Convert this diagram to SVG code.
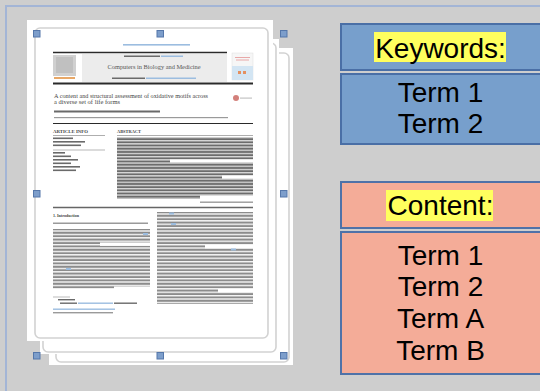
<svg xmlns="http://www.w3.org/2000/svg" width="540" height="391" viewBox="0 0 540 391">
  <style>
    .page { fill: #ffffff; }
    .pborder { fill: none; stroke: #d2d2d2; stroke-width: 1.6; }
    .handle { fill: #7d9ecb; stroke: #5577aa; stroke-width: 1; }
    .kw { fill: #779fcc; stroke: #4a6fa6; stroke-width: 2; }
    .ct { fill: #f4ac98; stroke: #4f72a8; stroke-width: 2; }
    .hl { fill: #ffff5e; }
    .big { font-family: "Liberation Sans", Arial, sans-serif; font-size: 28px; fill: #000; text-anchor: middle; }
    .serif { font-family: "Liberation Serif", "Times New Roman", serif; }
    .bar { fill: #9a9a9a; }
    .dbar { fill: #6a6a6a; }
    .blue { fill: #9cbde0; }
    .rule { stroke: #2a2a2a; }
  </style>
  <defs>
    <pattern id="txt" patternUnits="userSpaceOnUse" x="0" y="0" width="10" height="3.4">
      <rect x="0" y="0.5" width="10" height="2.1" fill="#8c8c8c"/>
    </pattern>
    <pattern id="txtd" patternUnits="userSpaceOnUse" x="0" y="0" width="10" height="3.2">
      <rect x="0" y="0.4" width="10" height="2.2" fill="#6c6c6c"/>
    </pattern>
  </defs>

  <rect x="0" y="0" width="540" height="391" fill="#cecece"/>
  <polyline points="6,391 6,6 540,6" fill="none" stroke="#a3b5d6" stroke-width="2"/>

  <g id="document">
    <!-- back pages -->
    <rect class="page" x="49" y="48" width="244" height="317"/>
    <rect class="pborder" x="56" y="53" width="233" height="309" rx="5"/>
    <rect class="page" x="40" y="39" width="239" height="315"/>
    <rect class="pborder" x="43" y="43" width="233" height="309" rx="5"/>
    <!-- front page -->
    <rect class="page" x="27" y="20" width="246" height="321"/>
    <rect class="pborder" x="35" y="28" width="233" height="310" rx="5"/>

    <!-- page content -->
    <rect class="blue" x="123" y="44" width="67" height="1.6"/>
    <line class="rule" x1="53" y1="52.5" x2="227" y2="52.5" stroke-width="1.3"/>
    <rect x="82" y="54" width="145" height="28" fill="#ececec"/>
    <rect x="53" y="55" width="23" height="21" fill="#d0d0d0"/>
    <rect x="56" y="57" width="17" height="16" fill="#b5b5b5" opacity="0.6"/>
    <rect x="54" y="77" width="21" height="2" fill="#e8a868"/>
    <rect class="dbar" x="124" y="55.5" width="36" height="1.5"/>
    <rect class="blue" x="161" y="55.5" width="22" height="1.5"/>
    <text class="serif" x="154" y="69" font-size="6.5" fill="#555" text-anchor="middle" textLength="93" lengthAdjust="spacingAndGlyphs">Computers in Biology and Medicine</text>
    <rect class="dbar" x="112" y="77.5" width="33" height="1.5"/>
    <rect class="blue" x="146" y="77.5" width="50" height="1.5"/>
    <rect x="232" y="53" width="21" height="27" fill="#f6f6f6" stroke="#dddddd" stroke-width="0.5"/>
    <rect x="235" y="57" width="15" height="1" fill="#e8a8a8"/>
    <rect x="236" y="59.5" width="13" height="1" fill="#e8a8a8"/>
    <rect x="232" y="66" width="21" height="14" fill="#d3e5f3"/>
    <rect x="238" y="71" width="3" height="3" fill="#e49060"/>
    <rect x="243" y="71" width="3" height="3" fill="#e49060"/>
    <line class="rule" x1="53" y1="83.5" x2="253" y2="83.5" stroke-width="2"/>

    <text class="serif" x="54" y="98" font-size="5.5" fill="#444" textLength="154" lengthAdjust="spacingAndGlyphs">A content and structural assessment of oxidative motifs across</text>
    <text class="serif" x="54" y="104" font-size="5.5" fill="#444" textLength="66" lengthAdjust="spacingAndGlyphs">a diverse set of life forms</text>
    <circle cx="236" cy="98" r="3" fill="#c8605a" opacity="0.8"/>
    <rect x="240" y="97.5" width="12" height="1.2" fill="#c4c4c4"/>
    <rect class="dbar" x="54" y="110.5" width="106" height="2"/>
    <rect class="bar" x="54" y="117" width="174" height="1.2"/>
    <line class="rule" x1="53" y1="123.5" x2="253" y2="123.5" stroke-width="1.2"/>

    <text class="serif" x="53" y="133" font-size="3.8" fill="#444" font-weight="bold" textLength="35" lengthAdjust="spacingAndGlyphs">ARTICLE INFO</text>
    <text class="serif" x="117" y="133" font-size="3.8" fill="#444" font-weight="bold" textLength="24" lengthAdjust="spacingAndGlyphs">ABSTRACT</text>
    <line x1="53" y1="135.5" x2="105" y2="135.5" stroke="#777" stroke-width="0.6"/>
    <line x1="117" y1="135.5" x2="253" y2="135.5" stroke="#777" stroke-width="0.6"/>

    <rect class="dbar" x="53" y="137.5" width="20" height="1.6"/>
    <rect class="dbar" x="53" y="141" width="32" height="1.6"/>
    <rect class="dbar" x="53" y="144.5" width="28" height="1.6"/>
    <line x1="53" y1="150" x2="105" y2="150" stroke="#888" stroke-width="0.6"/>
    <rect class="dbar" x="53" y="152" width="12" height="1.6"/>
    <rect class="dbar" x="53" y="155.5" width="18" height="1.6"/>
    <rect class="dbar" x="53" y="159" width="25" height="1.6"/>
    <rect class="dbar" x="53" y="162.5" width="18" height="1.6"/>
    <rect class="dbar" x="53" y="166" width="27" height="1.6"/>
    <rect class="dbar" x="53" y="169.5" width="23" height="1.6"/>

    <rect x="117" y="137" width="136" height="62" fill="url(#txtd)"/>
    <rect x="170" y="159.5" width="84" height="3" fill="#fff"/>
    <rect x="222" y="175.5" width="32" height="3.2" fill="#fff"/>
    <rect x="200" y="195.5" width="54" height="4" fill="#fff"/>
    <rect class="bar" x="200" y="201.5" width="53" height="1.4"/>
    <line x1="53" y1="207.5" x2="253" y2="207.5" stroke="#666" stroke-width="1.5"/>

    <text class="serif" x="53" y="216.5" font-size="4.5" fill="#444" font-weight="bold" textLength="26" lengthAdjust="spacingAndGlyphs">1. Introduction</text>
    <rect class="bar" x="53" y="222.5" width="95" height="1.5"/>

    <rect x="53" y="229" width="97" height="60" fill="url(#txt)"/>
    <rect x="100" y="242.5" width="50" height="3.4" fill="#fff"/>
    <rect x="114" y="286.5" width="36" height="3" fill="#fff"/>
    <rect class="blue" x="143" y="233" width="5" height="2"/>
    <rect class="blue" x="66" y="268" width="5" height="2"/>

    <rect x="157" y="212" width="96" height="92" fill="url(#txt)"/>
    <rect x="205" y="245" width="48" height="3.4" fill="#fff"/>
    <rect x="218" y="289" width="35" height="3.4" fill="#fff"/>
    <rect class="blue" x="169" y="212.5" width="5" height="2"/>
    <rect class="blue" x="171" y="223" width="5" height="2"/>
    <rect class="blue" x="231" y="248.5" width="5" height="2"/>

    <line x1="53" y1="297" x2="70" y2="297" stroke="#777" stroke-width="0.5"/>
    <rect class="dbar" x="58" y="299" width="17" height="1.4"/>
    <rect class="dbar" x="60" y="302.5" width="17" height="1.4"/>
    <rect class="blue" x="78" y="302.5" width="35" height="1.4"/>
    <rect class="dbar" x="114" y="302.5" width="23" height="1.4"/>
    <rect class="blue" x="53" y="308.5" width="62" height="1.4"/>
    <rect class="bar" x="53" y="312" width="60" height="1.4"/>
  </g>

  <g id="handles">
    <rect class="handle" x="33.5" y="30.5" width="6.5" height="6.5"/>
    <rect class="handle" x="157" y="30.5" width="6.5" height="6.5"/>
    <rect class="handle" x="280.5" y="30.5" width="6.5" height="6.5"/>
    <rect class="handle" x="33.5" y="190.5" width="6.5" height="6.5"/>
    <rect class="handle" x="280.5" y="190.5" width="6.5" height="6.5"/>
    <rect class="handle" x="33.5" y="352.5" width="6.5" height="6.5"/>
    <rect class="handle" x="157" y="352.5" width="6.5" height="6.5"/>
    <rect class="handle" x="280.5" y="352.5" width="6.5" height="6.5"/>
  </g>

  <g id="keywords-header">
    <rect class="kw" x="341" y="24" width="202" height="46"/>
    <rect class="hl" x="374" y="32" width="132" height="30"/>
    <text class="big" x="440.5" y="58">Keywords:</text>
  </g>
  <g id="keywords-terms">
    <rect class="kw" x="341" y="74" width="202" height="70"/>
    <text class="big" x="440.5" y="102">Term 1</text>
    <text class="big" x="440.5" y="133">Term 2</text>
  </g>
  <g id="content-header">
    <rect class="ct" x="341" y="182" width="202" height="46"/>
    <rect class="hl" x="386" y="190" width="107" height="31"/>
    <text class="big" x="440.5" y="215">Content:</text>
  </g>
  <g id="content-terms">
    <rect class="ct" x="341" y="232" width="202" height="142"/>
    <text class="big" x="440.5" y="265">Term 1</text>
    <text class="big" x="440.5" y="296">Term 2</text>
    <text class="big" x="440.5" y="328">Term A</text>
    <text class="big" x="440.5" y="360">Term B</text>
  </g>
</svg>
